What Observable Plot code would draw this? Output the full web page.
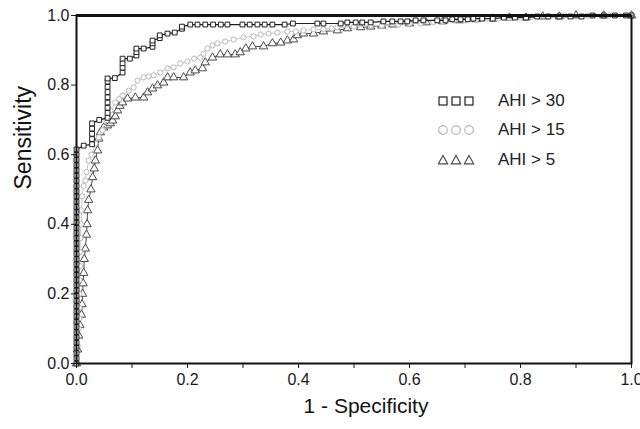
<!DOCTYPE html>
<html>
<head>
<meta charset="utf-8">
<script src="https://cdn.jsdelivr.net/npm/d3@7"></script>
<script src="https://cdn.jsdelivr.net/npm/@observablehq/plot@0.6"></script>
<style>
  html, body { margin: 0; padding: 0; background: #fff; }
  #wrap { position: relative; width: 640px; height: 429px; font-family: "Liberation Sans", Arial, Helvetica, sans-serif; }
  #legend { position: absolute; left: 438px; top: 86px; }
  .row { display: flex; align-items: center; height: 29.5px; }
  .row svg { width: 40px; height: 12px; }
  .row span { margin-left: 20px; font-size: 17px; color: #222; }
</style>
</head>
<body>
<div id="wrap">
  <div id="chart"></div>
  <div id="legend"></div>
</div>
<script>
// ---- data ----
const seriesNames = ["AHI > 30", "AHI > 15", "AHI > 5"];

const ahi30Fpr = [0,0,0,0,0,0,0,0,0,0,0,0,0,0,0,0,0,0,0,0,0,0,0,0,0,0,0,0,0,0,0,0,0,0,0,0,0,0,0,0,0,0,
  0.013,0.028,0.028,0.028,0.028,0.028,0.041,0.056,0.056,0.056,0.056,0.056,0.056,0.056,0.056,0.056,0.069,
  0.083,0.083,0.083,0.083,0.096,0.108,0.108,0.108,0.121,0.137,0.137,0.137,0.15,0.15,0.164,0.177,0.19,0.19,
  0.205,0.218,0.232,0.246,0.26,0.272,0.299,0.312,0.326,0.339,0.353,0.375,0.39,0.434,0.445,0.476,0.488,0.503,
  0.515,0.53,0.553,0.569,0.584,0.596,0.611,0.625,0.65,0.665,0.677,0.692,0.705,0.715,0.731,0.75,0.77,0.79,
  0.81,0.83,0.85,0.87,0.89,0.91,0.93,0.95,0.97,0.99,1];
const ahi30Sens = [0,0.015,0.03,0.045,0.06,0.075,0.09,0.105,0.12,0.135,0.15,0.165,0.18,0.195,0.21,0.225,0.24,0.255,0.27,0.285,0.3,0.315,0.33,0.345,0.36,0.375,0.39,0.405,0.42,0.435,0.45,0.465,0.48,0.495,0.51,0.525,0.54,0.555,0.57,0.585,0.6,0.615,
  0.626,0.63,0.645,0.66,0.675,0.69,0.7,0.706,0.72,0.735,0.75,0.765,0.78,0.795,0.81,0.819,0.82,
  0.836,0.85,0.863,0.876,0.876,0.885,0.895,0.905,0.905,0.91,0.92,0.928,0.935,0.943,0.948,0.951,0.962,0.968,
  0.974,0.974,0.974,0.974,0.974,0.974,0.974,0.974,0.974,0.974,0.974,0.974,0.977,0.977,0.977,0.977,0.98,0.98,
  0.98,0.98,0.983,0.983,0.983,0.983,0.986,0.986,0.986,0.986,0.989,0.989,0.989,0.991,0.991,0.991,0.994,0.994,
  0.994,0.997,0.997,0.997,0.997,0.997,1,1,1,1,1];

const ahi15Fpr = [0,0.002,0.004,0.005,0.005,0.005,0.005,0.006,0.006,0.007,0.008,0.009,0.01,0.013,0.016,0.018,0.022,0.027,0.034,0.04,0.047,0.054,0.061,0.07,0.077,0.083,0.094,0.103,0.11,0.121,0.13,0.139,0.151,0.164,0.175,0.187,0.2,0.212,0.223,0.229,0.236,0.245,0.254,0.268,0.283,0.301,0.319,0.332,0.346,0.362,0.38,0.395,0.409,0.427,0.445,0.46,0.47,0.5,0.53,0.55,0.58,0.6,0.62,0.643,0.66,0.68,0.7,0.72,0.74,0.76,0.78,0.8,0.82,0.85,0.88,0.92,0.96,1];
const ahi15Sens = [0,0.05,0.1,0.13,0.16,0.2,0.24,0.28,0.32,0.36,0.4,0.44,0.48,0.51,0.526,0.55,0.583,0.6,0.632,0.65,0.67,0.7,0.727,0.75,0.76,0.77,0.784,0.793,0.813,0.822,0.825,0.828,0.836,0.848,0.851,0.862,0.868,0.876,0.879,0.89,0.905,0.914,0.92,0.925,0.931,0.937,0.94,0.945,0.948,0.951,0.954,0.954,0.957,0.96,0.96,0.963,0.966,0.968,0.971,0.971,0.974,0.977,0.977,0.98,0.983,0.986,0.986,0.989,0.991,0.991,0.994,0.994,0.997,0.997,1,1,1,1];

const ahi5Fpr = [0,0.002,0.004,0.006,0.009,0.01,0.011,0.012,0.013,0.014,0.016,0.018,0.019,0.02,0.022,0.026,0.029,0.032,0.034,0.038,0.04,0.043,0.049,0.056,0.061,0.065,0.07,0.074,0.078,0.083,0.092,0.106,0.121,0.128,0.137,0.146,0.157,0.164,0.175,0.193,0.205,0.214,0.227,0.232,0.245,0.259,0.272,0.286,0.295,0.305,0.317,0.337,0.353,0.368,0.38,0.391,0.398,0.409,0.427,0.445,0.47,0.488,0.512,0.53,0.55,0.57,0.6,0.63,0.66,0.69,0.72,0.75,0.78,0.81,0.84,0.87,0.9,0.95,1];
const ahi5Sens = [0,0.04,0.08,0.11,0.14,0.17,0.2,0.23,0.26,0.3,0.33,0.37,0.4,0.44,0.47,0.5,0.535,0.56,0.583,0.612,0.646,0.664,0.678,0.684,0.69,0.698,0.71,0.727,0.74,0.75,0.761,0.764,0.764,0.779,0.79,0.799,0.807,0.822,0.822,0.822,0.836,0.842,0.848,0.865,0.879,0.888,0.888,0.888,0.894,0.905,0.911,0.911,0.92,0.922,0.928,0.931,0.943,0.948,0.948,0.954,0.957,0.963,0.966,0.968,0.971,0.974,0.977,0.98,0.983,0.986,0.989,0.991,0.994,0.994,0.997,0.997,1,1,1];

const xTicks = [0, 0.2, 0.4, 0.6, 0.8, 1.0];
const xMinorTicks = [0.1, 0.3, 0.5, 0.7, 0.9];
const yTicks = [0, 0.2, 0.4, 0.6, 0.8, 1.0];
const xLabel = "1 - Specificity";
const yLabel = "Sensitivity";

// ---- build tables ----
const toRows = (fpr, sens) => fpr.map((f, i) => ({fpr: f, sens: sens[i]}));
const d30 = toRows(ahi30Fpr, ahi30Sens);
const d15 = toRows(ahi15Fpr, ahi15Sens);
const d5 = toRows(ahi5Fpr, ahi5Sens);

const styles = [
  {symbol: "square", stroke: "#1e1e1e", line: "#1e1e1e", r: 2.7},
  {symbol: "circle", stroke: "#b8b8b8", line: "#c8c8c8", r: 2.6},
  {symbol: "triangle", stroke: "#4a4a4a", line: "#4a4a4a", r: 3.1}
];

const chart = Plot.plot({
  width: 640,
  height: 429,
  marginLeft: 76,
  marginRight: 9,
  marginTop: 15,
  marginBottom: 66,
  style: {fontFamily: "'Liberation Sans', Arial, Helvetica, sans-serif", fontSize: "14px", color: "#1a1a1a", background: "#fff"},
  x: {domain: [0, 1]},
  y: {domain: [0, 1]},
  marks: [
    // AHI > 5
    Plot.line(d5, {x: "fpr", y: "sens", stroke: styles[2].line, strokeWidth: 1}),
    Plot.dot(d5, {x: "fpr", y: "sens", symbol: styles[2].symbol, r: styles[2].r, stroke: styles[2].stroke, fill: "white", strokeWidth: 1}),
    // AHI > 15
    Plot.line(d15, {x: "fpr", y: "sens", stroke: styles[1].line, strokeWidth: 1}),
    Plot.dot(d15, {x: "fpr", y: "sens", symbol: styles[1].symbol, r: styles[1].r, stroke: styles[1].stroke, fill: "white", strokeWidth: 1}),
    // AHI > 30
    Plot.line(d30, {x: "fpr", y: "sens", stroke: styles[0].line, strokeWidth: 1.2}),
    Plot.dot(d30, {x: "fpr", y: "sens", symbol: styles[0].symbol, r: styles[0].r, stroke: styles[0].stroke, fill: "white", strokeWidth: 1}),
    // axes
    Plot.axisY({ticks: yTicks, tickFormat: d3.format(".1f"), tickSize: 5, tickPadding: 2, label: null, fontSize: 16}),
    Plot.axisX({ticks: xTicks, tickFormat: d3.format(".1f"), tickSize: 5, tickPadding: 5, label: null, fontSize: 16}),
    Plot.axisX({ticks: xMinorTicks, tickFormat: () => "", tickSize: 5, label: null}),
    Plot.frame({stroke: "#111", strokeWidth: 2}),
    Plot.ruleY([1], {stroke: "#111", strokeWidth: 3}),
    Plot.text([xLabel], {frameAnchor: "bottom", dx: 12, dy: 49, fontSize: 21, fill: "#111"}),
    Plot.text([yLabel], {frameAnchor: "left", dx: -53, rotate: -90, fontSize: 23, fill: "#111"})
  ]
});
document.getElementById("chart").appendChild(chart);

// ---- legend (HTML overlay) ----
const legend = document.getElementById("legend");
const symPaths = {
  square: (cx) => `<rect x="${cx - 4}" y="2" width="8" height="8" fill="white" />`,
  circle: (cx) => `<circle cx="${cx}" cy="6" r="4.3" fill="white" />`,
  triangle: (cx) => `<path d="M${cx},1.5 L${cx + 4.6},9.8 L${cx - 4.6},9.8 Z" fill="white" />`
};
seriesNames.forEach((name, i) => {
  const s = styles[i];
  const row = document.createElement("div");
  row.className = "row";
  const g = [5, 18, 31].map(cx => symPaths[s.symbol](cx)).join("");
  row.innerHTML = `<svg viewBox="0 0 40 12"><g stroke="${s.stroke}" stroke-width="1.2">${g}</g></svg><span>${name}</span>`;
  legend.appendChild(row);
});
</script>
</body>
</html>
